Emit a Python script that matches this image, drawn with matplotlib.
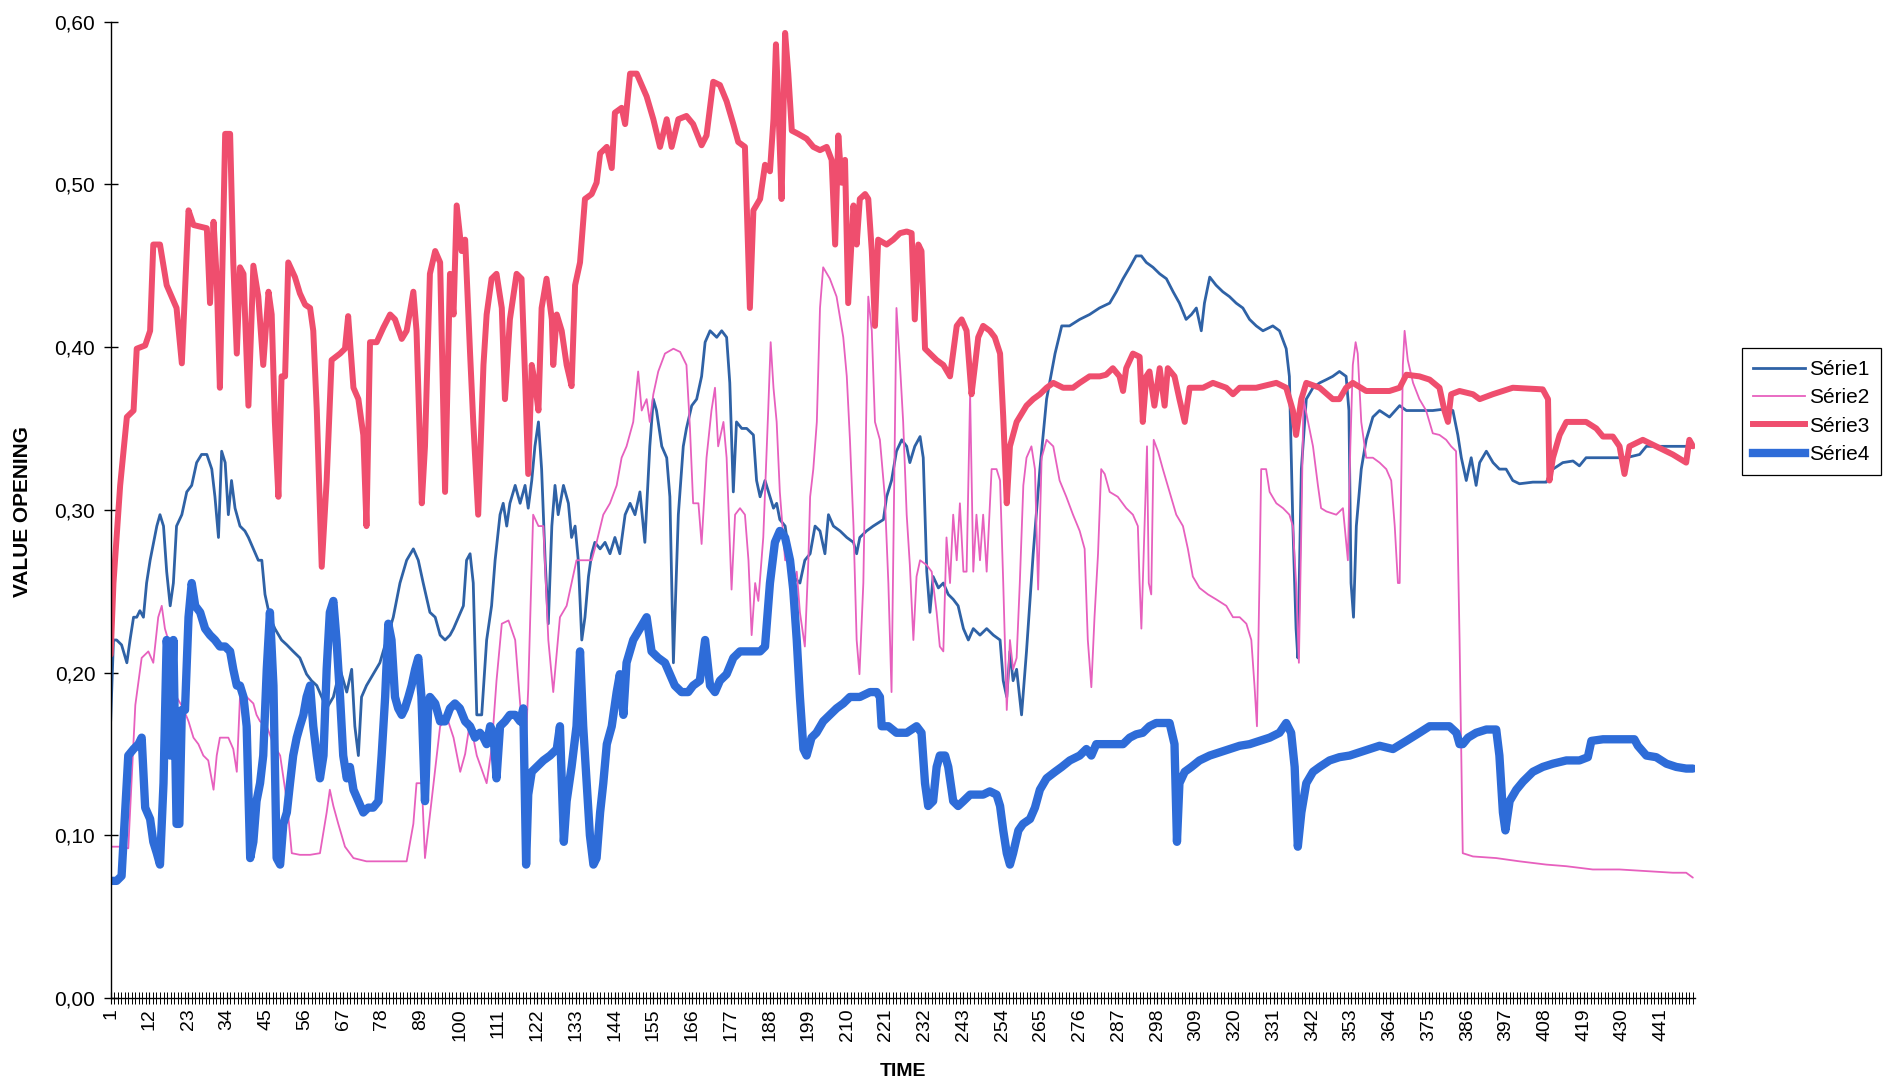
import matplotlib
matplotlib.use("Agg")
import matplotlib.pyplot as plt
from matplotlib.lines import Line2D

plt.rcParams["font.family"] = ["Liberation Sans", "DejaVu Sans"]

# valve opening traces as (time, opening) vertices
serie1 = [
    (1.0, 0.170), (1.8, 0.220), (2.7, 0.220), (4.1, 0.217), (5.6, 0.206), (6.5, 0.220), (7.5, 0.234),
    (8.4, 0.234), (9.3, 0.238), (10.3, 0.234), (11.2, 0.255), (12.2, 0.269), (13.1, 0.279), (14.1, 0.290),
    (15.0, 0.297), (16.0, 0.290), (16.9, 0.262), (17.9, 0.241), (18.8, 0.255), (19.7, 0.290), (21.2, 0.297),
    (22.6, 0.311), (24.0, 0.315), (25.4, 0.329), (26.8, 0.334), (28.3, 0.334), (29.7, 0.325), (30.6, 0.308),
    (31.6, 0.283), (32.5, 0.336), (33.5, 0.329), (34.4, 0.297), (35.3, 0.318), (36.3, 0.301), (37.7, 0.290),
    (39.1, 0.287), (40.1, 0.283), (41.5, 0.276), (42.9, 0.269), (43.9, 0.269), (44.8, 0.248), (46.2, 0.234),
    (47.6, 0.227), (49.5, 0.220), (51.0, 0.217), (52.8, 0.213), (54.7, 0.209), (56.6, 0.199), (58.0, 0.195),
    (59.5, 0.192), (60.9, 0.185), (62.3, 0.178), (64.2, 0.185), (66.1, 0.202), (68.0, 0.188), (69.4, 0.202),
    (70.3, 0.167), (71.3, 0.149), (72.2, 0.185), (73.6, 0.192), (75.5, 0.199), (77.4, 0.206), (79.3, 0.220),
    (81.2, 0.234), (83.1, 0.255), (85.0, 0.269), (86.9, 0.276), (88.3, 0.269), (89.7, 0.255), (91.6, 0.237),
    (93.1, 0.234), (94.5, 0.223), (95.9, 0.220), (97.3, 0.223), (98.3, 0.227), (99.7, 0.234), (101.1, 0.241),
    (102.0, 0.269), (103.0, 0.273), (103.9, 0.255), (104.9, 0.174), (106.3, 0.174), (107.7, 0.220),
    (109.1, 0.241), (110.1, 0.269), (111.5, 0.297), (112.4, 0.304), (113.4, 0.290), (114.3, 0.304),
    (115.8, 0.315), (117.2, 0.304), (118.6, 0.315), (119.5, 0.301), (120.5, 0.318), (121.4, 0.339),
    (122.4, 0.354), (123.3, 0.325), (124.3, 0.269), (125.2, 0.230), (126.2, 0.290), (127.1, 0.315),
    (128.0, 0.297), (129.5, 0.315), (130.9, 0.304), (131.8, 0.283), (132.8, 0.290), (133.7, 0.269),
    (134.7, 0.220), (135.6, 0.234), (136.6, 0.259), (137.5, 0.273), (138.4, 0.280), (139.9, 0.276),
    (141.3, 0.280), (142.7, 0.273), (144.1, 0.283), (145.5, 0.273), (147.0, 0.297), (148.4, 0.304),
    (149.8, 0.297), (151.2, 0.311), (152.6, 0.280), (154.0, 0.339), (155.0, 0.368), (155.9, 0.361),
    (157.4, 0.339), (158.8, 0.332), (159.7, 0.308), (160.7, 0.206), (162.1, 0.297), (163.5, 0.339),
    (164.4, 0.350), (165.9, 0.364), (167.3, 0.368), (168.7, 0.382), (169.7, 0.403), (171.1, 0.410),
    (173.0, 0.406), (174.4, 0.410), (175.8, 0.406), (176.7, 0.378), (177.7, 0.311), (178.6, 0.354),
    (180.1, 0.350), (181.5, 0.350), (183.4, 0.346), (184.3, 0.318), (185.3, 0.308), (186.7, 0.318),
    (188.1, 0.308), (189.1, 0.301), (190.0, 0.304), (190.9, 0.294), (192.4, 0.290), (193.8, 0.269),
    (195.2, 0.258), (196.6, 0.255), (198.0, 0.269), (199.5, 0.273), (200.9, 0.290), (202.3, 0.287),
    (203.7, 0.273), (204.7, 0.297), (206.1, 0.290), (208.0, 0.287), (209.9, 0.283), (211.8, 0.280),
    (212.7, 0.273), (213.6, 0.283), (215.5, 0.287), (217.4, 0.290), (220.3, 0.294), (221.2, 0.308),
    (222.6, 0.318), (224.0, 0.336), (225.5, 0.343), (226.9, 0.339), (227.8, 0.329), (229.2, 0.339),
    (230.7, 0.345), (231.6, 0.332), (232.6, 0.262), (233.5, 0.237), (234.4, 0.259), (235.9, 0.252),
    (237.3, 0.255), (238.7, 0.248), (240.1, 0.245), (241.5, 0.241), (243.0, 0.227), (244.4, 0.220),
    (245.8, 0.227), (247.7, 0.223), (249.6, 0.227), (251.5, 0.223), (253.4, 0.220), (254.3, 0.195),
    (255.3, 0.185), (256.2, 0.213), (257.1, 0.195), (258.1, 0.202), (259.5, 0.174), (260.9, 0.213),
    (262.8, 0.273), (264.7, 0.325), (266.6, 0.368), (269.0, 0.396), (270.9, 0.413), (273.1, 0.413),
    (276.0, 0.417), (278.8, 0.420), (281.6, 0.424), (284.5, 0.427), (286.4, 0.434), (288.3, 0.442),
    (290.2, 0.449), (292.0, 0.456), (293.5, 0.456), (294.9, 0.452), (296.8, 0.449), (298.7, 0.445),
    (300.6, 0.442), (302.5, 0.434), (304.3, 0.427), (306.2, 0.417), (307.7, 0.420), (309.1, 0.424),
    (310.5, 0.410), (311.4, 0.427), (312.9, 0.443), (314.7, 0.438), (316.6, 0.434), (318.5, 0.431),
    (320.4, 0.427), (322.3, 0.424), (324.2, 0.417), (326.1, 0.413), (328.0, 0.410), (330.8, 0.413),
    (332.7, 0.410), (334.6, 0.399), (335.5, 0.382), (336.5, 0.290), (337.4, 0.227), (337.9, 0.209),
    (338.9, 0.325), (340.3, 0.368), (342.2, 0.375), (344.1, 0.378), (346.0, 0.380), (347.8, 0.382),
    (349.7, 0.385), (351.6, 0.382), (352.4, 0.361), (353.0, 0.255), (353.7, 0.234), (354.5, 0.290),
    (355.9, 0.325), (357.3, 0.343), (359.2, 0.357), (361.1, 0.361), (363.9, 0.357), (366.8, 0.364),
    (368.7, 0.361), (372.4, 0.361), (376.2, 0.361), (380.0, 0.362), (381.9, 0.361), (383.3, 0.346),
    (384.3, 0.332), (385.7, 0.318), (387.1, 0.332), (388.5, 0.315), (389.5, 0.329), (391.4, 0.336),
    (393.3, 0.329), (395.1, 0.325), (397.0, 0.325), (398.9, 0.318), (400.8, 0.316), (404.6, 0.317),
    (408.4, 0.317), (410.3, 0.325), (413.1, 0.329), (416.0, 0.330), (417.8, 0.327), (419.7, 0.332),
    (423.5, 0.332), (427.3, 0.332), (431.1, 0.332), (434.9, 0.334), (436.8, 0.339), (440.5, 0.339),
    (444.3, 0.339), (448.1, 0.339), (450.0, 0.341),
]

serie2 = [
    (1.0, 0.093), (3.7, 0.093), (6.0, 0.092), (8.0, 0.180), (9.8, 0.209), (11.7, 0.213), (13.1, 0.206),
    (14.5, 0.234), (15.5, 0.241), (16.4, 0.227), (17.9, 0.216), (19.7, 0.185), (21.6, 0.178), (23.1, 0.170),
    (24.5, 0.160), (25.9, 0.156), (27.3, 0.149), (28.7, 0.146), (30.2, 0.128), (31.1, 0.149), (32.0, 0.160),
    (34.4, 0.160), (35.8, 0.153), (36.8, 0.139), (37.7, 0.185), (39.6, 0.185), (41.5, 0.181), (42.4, 0.174),
    (43.4, 0.170), (45.3, 0.167), (47.2, 0.156), (49.1, 0.149), (51.0, 0.121), (52.4, 0.089), (54.7, 0.088),
    (57.6, 0.088), (60.4, 0.089), (62.3, 0.114), (63.2, 0.128), (64.2, 0.118), (65.6, 0.107), (67.5, 0.093),
    (69.9, 0.086), (73.6, 0.084), (77.4, 0.084), (81.2, 0.084), (85.0, 0.084), (86.9, 0.107), (87.8, 0.132),
    (89.3, 0.132), (90.2, 0.086), (92.0, 0.120), (94.5, 0.167), (96.5, 0.172), (98.3, 0.160), (100.2, 0.139),
    (101.6, 0.150), (103.0, 0.170), (104.9, 0.149), (107.7, 0.132), (109.1, 0.153), (110.5, 0.195),
    (112.0, 0.230), (113.9, 0.232), (115.8, 0.220), (117.2, 0.181), (118.6, 0.146), (119.5, 0.190),
    (120.9, 0.297), (122.4, 0.290), (123.8, 0.290), (125.2, 0.220), (126.6, 0.188), (128.5, 0.234),
    (130.4, 0.241), (131.8, 0.255), (133.2, 0.269), (136.1, 0.269), (137.5, 0.269), (138.9, 0.280),
    (140.8, 0.297), (142.7, 0.304), (144.6, 0.315), (146.0, 0.332), (147.4, 0.339), (149.3, 0.354),
    (150.7, 0.385), (151.7, 0.361), (153.1, 0.368), (154.0, 0.354), (155.0, 0.371), (156.4, 0.385),
    (158.3, 0.396), (160.7, 0.399), (162.6, 0.397), (164.4, 0.389), (165.4, 0.350), (166.3, 0.304),
    (167.8, 0.304), (168.7, 0.279), (170.1, 0.332), (171.5, 0.361), (172.5, 0.375), (173.4, 0.339),
    (174.9, 0.354), (175.8, 0.332), (177.2, 0.251), (178.2, 0.297), (179.6, 0.301), (181.0, 0.297),
    (182.0, 0.269), (182.9, 0.223), (183.9, 0.255), (184.8, 0.244), (186.2, 0.283), (187.6, 0.361),
    (188.3, 0.403), (189.1, 0.375), (190.0, 0.354), (190.9, 0.311), (192.4, 0.269), (193.8, 0.269),
    (194.7, 0.255), (195.7, 0.262), (196.6, 0.237), (198.0, 0.216), (199.0, 0.269), (199.5, 0.308),
    (200.4, 0.325), (201.4, 0.354), (202.3, 0.424), (203.2, 0.449), (205.1, 0.442), (207.0, 0.431),
    (208.9, 0.406), (209.9, 0.382), (210.8, 0.343), (211.8, 0.290), (212.7, 0.220), (213.5, 0.199),
    (214.6, 0.255), (216.0, 0.431), (217.0, 0.410), (217.9, 0.354), (219.3, 0.343), (220.7, 0.308),
    (221.7, 0.255), (222.6, 0.188), (223.6, 0.354), (224.0, 0.424), (225.0, 0.389), (225.9, 0.354),
    (226.9, 0.297), (227.8, 0.266), (228.8, 0.220), (229.7, 0.259), (230.7, 0.269), (232.6, 0.266),
    (234.0, 0.262), (235.4, 0.237), (236.3, 0.216), (237.3, 0.213), (238.2, 0.283), (239.2, 0.255),
    (240.1, 0.297), (241.1, 0.269), (242.0, 0.304), (243.0, 0.262), (243.9, 0.262), (244.9, 0.371),
    (245.8, 0.262), (246.7, 0.297), (247.7, 0.269), (248.6, 0.297), (249.6, 0.262), (251.0, 0.325),
    (252.4, 0.325), (253.4, 0.318), (254.3, 0.255), (255.3, 0.177), (256.2, 0.220), (257.1, 0.202),
    (258.1, 0.209), (259.0, 0.255), (260.0, 0.315), (260.9, 0.332), (262.3, 0.339), (263.3, 0.325),
    (264.2, 0.251), (265.2, 0.332), (266.6, 0.343), (268.5, 0.339), (270.3, 0.318), (272.2, 0.308),
    (274.1, 0.297), (276.0, 0.287), (277.4, 0.276), (278.3, 0.220), (279.3, 0.191), (280.2, 0.234),
    (281.2, 0.273), (282.1, 0.325), (283.1, 0.322), (284.5, 0.311), (286.8, 0.308), (289.2, 0.301),
    (291.1, 0.297), (292.5, 0.290), (293.0, 0.255), (293.5, 0.227), (294.4, 0.290), (295.1, 0.339),
    (295.6, 0.255), (296.3, 0.248), (297.0, 0.343), (298.2, 0.336), (299.6, 0.325), (301.5, 0.311),
    (303.4, 0.297), (305.3, 0.290), (306.7, 0.276), (308.1, 0.259), (310.0, 0.252), (312.4, 0.248),
    (314.7, 0.245), (317.6, 0.241), (319.5, 0.234), (321.4, 0.234), (323.3, 0.230), (324.7, 0.220),
    (325.6, 0.192), (326.3, 0.167), (327.0, 0.255), (327.5, 0.325), (328.9, 0.325), (329.9, 0.311),
    (331.8, 0.304), (333.7, 0.301), (335.5, 0.297), (336.5, 0.290), (337.4, 0.255), (338.2, 0.206),
    (338.9, 0.290), (339.5, 0.368), (340.8, 0.354), (342.2, 0.339), (343.6, 0.315), (344.5, 0.301),
    (346.0, 0.299), (348.8, 0.297), (350.7, 0.301), (352.1, 0.269), (352.8, 0.339), (353.5, 0.389),
    (354.3, 0.403), (354.9, 0.396), (355.9, 0.354), (357.3, 0.332), (359.2, 0.332), (361.1, 0.329),
    (363.0, 0.325), (364.4, 0.318), (365.4, 0.290), (366.3, 0.255), (366.8, 0.255), (367.3, 0.325),
    (367.7, 0.389), (368.2, 0.410), (369.1, 0.392), (370.6, 0.378), (372.4, 0.368), (374.3, 0.361),
    (376.2, 0.347), (378.1, 0.346), (380.0, 0.343), (381.4, 0.339), (382.8, 0.336), (383.8, 0.220),
    (384.7, 0.089), (387.6, 0.087), (394.2, 0.086), (400.8, 0.084), (408.4, 0.082), (414.1, 0.081),
    (421.6, 0.079), (429.2, 0.079), (436.8, 0.078), (444.3, 0.077), (448.1, 0.077), (450.0, 0.074),
]

serie3 = [
    (1.0, 0.211), (1.8, 0.255), (3.7, 0.315), (5.6, 0.357), (7.5, 0.361), (8.4, 0.399), (10.8, 0.401),
    (12.2, 0.410), (13.1, 0.463), (15.0, 0.463), (16.9, 0.438), (18.3, 0.431), (19.7, 0.424), (21.2, 0.390),
    (23.1, 0.484), (24.5, 0.475), (28.3, 0.473), (29.2, 0.427), (30.2, 0.477), (31.1, 0.442), (32.0, 0.375),
    (33.5, 0.531), (34.9, 0.531), (35.8, 0.452), (36.8, 0.396), (37.7, 0.449), (38.7, 0.445), (40.1, 0.364),
    (41.5, 0.450), (42.9, 0.431), (44.3, 0.389), (45.8, 0.434), (46.7, 0.420), (47.6, 0.354), (48.6, 0.308),
    (49.5, 0.382), (50.5, 0.382), (51.4, 0.452), (53.3, 0.443), (54.7, 0.433), (56.2, 0.426), (57.6, 0.424),
    (58.5, 0.410), (59.5, 0.361), (60.9, 0.265), (62.3, 0.318), (63.7, 0.392), (66.1, 0.396), (67.5, 0.399),
    (68.4, 0.419), (69.9, 0.375), (71.3, 0.368), (72.7, 0.346), (73.6, 0.290), (74.6, 0.403), (76.5, 0.403),
    (78.4, 0.412), (80.3, 0.420), (81.7, 0.417), (83.6, 0.405), (85.0, 0.410), (86.9, 0.434), (87.8, 0.410),
    (89.3, 0.304), (90.2, 0.339), (91.6, 0.445), (93.1, 0.459), (94.5, 0.452), (95.9, 0.311), (97.3, 0.445),
    (98.3, 0.420), (99.2, 0.487), (100.6, 0.459), (101.6, 0.466), (103.0, 0.396), (103.9, 0.354),
    (105.3, 0.297), (106.8, 0.389), (107.7, 0.420), (109.1, 0.442), (110.5, 0.445), (112.0, 0.424),
    (112.9, 0.368), (114.3, 0.417), (116.2, 0.445), (117.6, 0.442), (118.6, 0.382), (119.5, 0.322),
    (120.5, 0.389), (121.4, 0.378), (122.4, 0.361), (123.3, 0.424), (124.7, 0.442), (126.2, 0.417),
    (126.6, 0.389), (127.6, 0.420), (129.0, 0.410), (130.4, 0.389), (131.8, 0.376), (132.8, 0.438),
    (134.2, 0.452), (135.6, 0.491), (137.5, 0.494), (138.9, 0.501), (139.9, 0.519), (141.8, 0.523),
    (143.2, 0.510), (144.1, 0.544), (146.0, 0.547), (147.0, 0.537), (148.4, 0.568), (150.3, 0.568),
    (151.7, 0.561), (153.1, 0.554), (155.0, 0.540), (156.9, 0.523), (158.8, 0.540), (160.2, 0.523),
    (162.1, 0.540), (164.4, 0.542), (166.3, 0.537), (168.7, 0.524), (170.1, 0.530), (172.0, 0.563),
    (173.9, 0.561), (175.8, 0.551), (177.7, 0.537), (179.1, 0.526), (181.0, 0.523), (182.4, 0.424),
    (183.4, 0.484), (185.3, 0.491), (186.7, 0.512), (188.1, 0.508), (189.1, 0.540), (189.8, 0.586),
    (190.5, 0.547), (191.4, 0.491), (192.4, 0.593), (193.3, 0.568), (194.3, 0.533), (196.1, 0.531),
    (198.5, 0.528), (200.4, 0.523), (202.3, 0.521), (204.2, 0.523), (205.6, 0.515), (206.6, 0.463),
    (207.5, 0.530), (208.4, 0.501), (209.4, 0.515), (210.3, 0.427), (211.8, 0.487), (212.7, 0.463),
    (213.6, 0.491), (215.1, 0.494), (216.0, 0.491), (217.0, 0.459), (217.9, 0.413), (218.8, 0.466),
    (221.2, 0.463), (223.1, 0.466), (225.0, 0.470), (226.9, 0.471), (228.3, 0.470), (229.2, 0.417),
    (230.2, 0.463), (231.1, 0.459), (232.1, 0.399), (233.5, 0.396), (235.4, 0.392), (237.3, 0.389),
    (239.2, 0.382), (241.1, 0.413), (242.5, 0.417), (243.9, 0.410), (245.3, 0.371), (246.3, 0.389),
    (247.2, 0.406), (248.6, 0.413), (250.5, 0.410), (251.9, 0.406), (253.4, 0.396), (254.3, 0.357),
    (255.3, 0.304), (256.2, 0.339), (258.1, 0.354), (260.9, 0.364), (262.8, 0.368), (264.7, 0.371),
    (266.6, 0.375), (268.5, 0.378), (271.3, 0.375), (274.1, 0.375), (276.0, 0.378), (278.8, 0.382),
    (281.7, 0.382), (283.5, 0.383), (285.4, 0.387), (287.3, 0.382), (288.3, 0.373), (289.2, 0.387),
    (291.1, 0.396), (293.0, 0.394), (293.9, 0.354), (294.9, 0.382), (295.8, 0.385), (297.2, 0.364),
    (298.7, 0.387), (300.1, 0.364), (301.0, 0.387), (302.9, 0.382), (304.3, 0.368), (305.8, 0.354),
    (307.2, 0.375), (311.0, 0.375), (313.8, 0.378), (317.6, 0.375), (319.5, 0.371), (321.4, 0.375),
    (326.1, 0.375), (331.8, 0.378), (334.6, 0.375), (336.5, 0.361), (337.4, 0.346), (338.9, 0.368),
    (340.3, 0.378), (344.1, 0.375), (347.8, 0.368), (349.7, 0.368), (351.6, 0.375), (353.5, 0.378),
    (357.3, 0.373), (363.9, 0.373), (366.8, 0.375), (368.7, 0.383), (372.4, 0.382), (375.3, 0.380),
    (378.1, 0.375), (379.5, 0.361), (380.5, 0.354), (381.4, 0.371), (383.8, 0.373), (387.6, 0.371),
    (389.5, 0.368), (393.2, 0.371), (398.9, 0.375), (407.4, 0.374), (408.9, 0.368), (409.3, 0.318),
    (410.3, 0.332), (412.2, 0.346), (414.1, 0.354), (419.7, 0.354), (422.6, 0.350), (424.5, 0.345),
    (427.3, 0.345), (429.2, 0.339), (430.6, 0.322), (432.0, 0.339), (435.8, 0.343), (440.5, 0.338),
    (444.3, 0.334), (448.1, 0.329), (449.0, 0.343), (450.0, 0.339),
]

serie4 = [
    (1.0, 0.072), (2.7, 0.072), (4.1, 0.075), (5.1, 0.114), (6.0, 0.149), (7.5, 0.153), (8.9, 0.156),
    (9.8, 0.160), (10.8, 0.117), (12.2, 0.110), (13.1, 0.096), (14.1, 0.089), (15.0, 0.082), (16.0, 0.132),
    (16.9, 0.220), (17.4, 0.209), (17.9, 0.149), (18.8, 0.220), (19.7, 0.107), (20.5, 0.107), (21.2, 0.177),
    (22.1, 0.177), (23.1, 0.234), (24.0, 0.255), (25.0, 0.241), (26.4, 0.237), (27.8, 0.227), (29.2, 0.223),
    (30.6, 0.220), (32.0, 0.216), (33.5, 0.216), (34.9, 0.213), (35.8, 0.202), (36.8, 0.192), (37.7, 0.192),
    (38.7, 0.185), (39.6, 0.167), (40.6, 0.086), (41.5, 0.096), (42.4, 0.121), (43.4, 0.132), (44.3, 0.149),
    (45.3, 0.202), (46.2, 0.237), (47.2, 0.192), (48.1, 0.086), (49.1, 0.082), (50.0, 0.107), (51.0, 0.114),
    (51.9, 0.132), (52.8, 0.149), (53.8, 0.160), (54.7, 0.167), (55.7, 0.174), (56.6, 0.185), (57.6, 0.192),
    (58.5, 0.167), (59.5, 0.149), (60.4, 0.135), (61.4, 0.149), (62.3, 0.202), (63.2, 0.237), (64.2, 0.244),
    (65.1, 0.220), (66.1, 0.185), (67.0, 0.149), (68.0, 0.135), (68.9, 0.142), (69.9, 0.128), (71.3, 0.121),
    (72.7, 0.114), (74.1, 0.117), (75.5, 0.117), (77.0, 0.121), (77.9, 0.149), (78.9, 0.185), (79.8, 0.230),
    (80.7, 0.220), (81.7, 0.185), (82.6, 0.178), (83.6, 0.174), (84.5, 0.178), (85.5, 0.185), (86.4, 0.192),
    (87.4, 0.202), (88.3, 0.209), (89.2, 0.185), (90.2, 0.121), (91.1, 0.178), (91.6, 0.185), (93.1, 0.181),
    (94.5, 0.170), (95.9, 0.170), (97.3, 0.178), (98.7, 0.181), (100.1, 0.178), (101.6, 0.170),
    (103.0, 0.167), (104.4, 0.160), (105.8, 0.163), (106.8, 0.160), (107.7, 0.156), (108.7, 0.167),
    (109.6, 0.163), (110.5, 0.135), (111.5, 0.167), (112.9, 0.170), (114.3, 0.174), (115.8, 0.174),
    (117.2, 0.170), (118.1, 0.178), (118.9, 0.082), (119.5, 0.125), (120.5, 0.139), (121.9, 0.142),
    (123.8, 0.146), (125.7, 0.149), (127.6, 0.153), (128.5, 0.167), (129.6, 0.096), (130.4, 0.121),
    (131.8, 0.142), (133.2, 0.167), (134.2, 0.213), (135.1, 0.167), (136.1, 0.132), (137.0, 0.100),
    (138.0, 0.082), (138.9, 0.086), (139.9, 0.114), (140.8, 0.132), (141.8, 0.156), (143.2, 0.167),
    (144.6, 0.188), (145.5, 0.199), (146.5, 0.174), (147.4, 0.206), (149.3, 0.220), (151.2, 0.227),
    (153.1, 0.234), (154.5, 0.213), (156.4, 0.209), (158.3, 0.206), (159.7, 0.199), (161.1, 0.192),
    (163.0, 0.188), (164.9, 0.188), (166.3, 0.192), (168.2, 0.195), (169.7, 0.220), (171.1, 0.192),
    (172.5, 0.188), (173.9, 0.195), (175.8, 0.199), (177.7, 0.209), (179.6, 0.213), (181.5, 0.213),
    (183.4, 0.213), (185.3, 0.213), (186.7, 0.216), (188.1, 0.255), (189.5, 0.280), (190.9, 0.287),
    (192.4, 0.283), (193.8, 0.269), (194.7, 0.251), (195.7, 0.220), (196.6, 0.185), (197.6, 0.153),
    (198.5, 0.149), (199.9, 0.160), (201.3, 0.163), (203.2, 0.170), (205.1, 0.174), (207.0, 0.178),
    (208.9, 0.181), (210.8, 0.185), (213.6, 0.185), (216.5, 0.188), (218.4, 0.188), (219.3, 0.185),
    (219.8, 0.167), (221.7, 0.167), (224.0, 0.163), (226.9, 0.163), (229.7, 0.167), (231.1, 0.163),
    (232.1, 0.132), (233.0, 0.118), (234.4, 0.121), (235.4, 0.142), (236.3, 0.149), (237.8, 0.149),
    (238.7, 0.142), (240.1, 0.121), (241.5, 0.118), (243.0, 0.121), (244.9, 0.125), (246.7, 0.125),
    (248.6, 0.125), (250.5, 0.127), (252.4, 0.125), (253.4, 0.118), (254.3, 0.103), (255.3, 0.089),
    (256.2, 0.082), (257.1, 0.089), (258.6, 0.103), (259.9, 0.107), (261.9, 0.110), (263.3, 0.117),
    (264.7, 0.128), (266.6, 0.135), (269.0, 0.139), (270.9, 0.142), (273.2, 0.146), (276.0, 0.149),
    (277.9, 0.153), (279.3, 0.149), (280.7, 0.156), (282.6, 0.156), (284.5, 0.156), (286.4, 0.156),
    (288.3, 0.156), (290.2, 0.160), (292.0, 0.162), (293.9, 0.163), (295.8, 0.167), (297.7, 0.169),
    (299.6, 0.169), (301.5, 0.169), (302.9, 0.156), (303.6, 0.096), (304.3, 0.132), (305.8, 0.139),
    (307.7, 0.142), (310.0, 0.146), (312.9, 0.149), (315.7, 0.151), (318.5, 0.153), (321.4, 0.155),
    (324.2, 0.156), (327.0, 0.158), (329.9, 0.160), (332.7, 0.163), (334.6, 0.169), (336.0, 0.163),
    (337.0, 0.142), (337.9, 0.093), (338.9, 0.114), (340.3, 0.132), (342.2, 0.139), (344.1, 0.142),
    (346.9, 0.146), (349.7, 0.148), (352.6, 0.149), (355.4, 0.151), (358.1, 0.153), (361.1, 0.155),
    (364.9, 0.153), (368.7, 0.158), (372.4, 0.163), (375.3, 0.167), (378.1, 0.167), (380.9, 0.167),
    (382.9, 0.163), (383.8, 0.156), (384.7, 0.156), (386.2, 0.160), (388.5, 0.163), (391.4, 0.165),
    (394.2, 0.165), (395.1, 0.149), (396.1, 0.114), (396.8, 0.103), (398.0, 0.121), (399.9, 0.128),
    (401.8, 0.133), (404.6, 0.139), (407.4, 0.142), (410.3, 0.144), (414.1, 0.146), (417.8, 0.146),
    (420.2, 0.148), (421.2, 0.158), (424.5, 0.159), (429.2, 0.159), (433.4, 0.159), (434.4, 0.155),
    (436.8, 0.149), (439.6, 0.148), (442.5, 0.144), (445.3, 0.142), (448.1, 0.141), (450.0, 0.141),
]

series_names = ["Série1", "Série2", "Série3", "Série4"]
time_ticks = [1, 12, 23, 34, 45, 56, 67, 78, 89, 100, 111, 122, 133, 144, 155, 166, 177, 188, 199, 210,
              221, 232, 243, 254, 265, 276, 287, 298, 309, 320, 331, 342, 353, 364, 375, 386, 397, 408,
              419, 430, 441]
n_points = 450
y_ticks = [0.0, 0.1, 0.2, 0.3, 0.4, 0.5, 0.6]
y_tick_labels = ["0,00", "0,10", "0,20", "0,30", "0,40", "0,50", "0,60"]

colors = ["#2F62A6", "#E760BE", "#EF4E6E", "#2E6CD8"]
widths = [2.0, 1.3, 4.3, 6.0]

fig = plt.figure(figsize=(18.85, 10.84), dpi=100)
ax = fig.add_axes([0.0587, 0.0793, 0.8403, 0.9008])

for pts, name, c, lw in zip([serie1, serie2, serie3, serie4], series_names, colors, widths):
    t, v = zip(*pts)
    ax.plot(t, v, color=c, lw=lw, label=name, solid_joinstyle="round", solid_capstyle="round")

ax.set_xlim(1, n_points + 0.5)
ax.set_ylim(0, 0.6)
ax.set_yticks(y_ticks)
ax.set_yticklabels(y_tick_labels, fontsize=15)
ax.set_xticks(time_ticks)
ax.set_xticklabels([str(x) for x in time_ticks], rotation=90, fontsize=14)
ax.set_xticks(range(1, n_points + 1), minor=True)

for side in ["top", "right"]:
    ax.spines[side].set_visible(False)
for side in ["left", "bottom"]:
    ax.spines[side].set_linewidth(1.0)

ax.tick_params(axis="y", direction="inout", length=10, width=1, pad=6)
ax.tick_params(axis="x", which="major", direction="inout", length=9, width=0.8, pad=3)
ax.tick_params(axis="x", which="minor", direction="inout", length=9, width=0.7)

fig.text(903 / 1885, 1 - 1071 / 1084, "TIME", ha="center", va="center", fontsize=14, fontweight="bold")
fig.text(22 / 1885, 1 - 512 / 1084, "VALUE OPENING", ha="center", va="center", rotation=90,
         fontsize=15, fontweight="bold")

handles = [Line2D([], [], color=c, lw=lw) for c, lw in zip(colors, widths)]
leg = fig.legend(handles, series_names, loc="center left", bbox_to_anchor=(0.9185, 0.620),
                 fontsize=15, frameon=True, fancybox=False, edgecolor="black", framealpha=1,
                 handlelength=2.5, handletextpad=0.2, labelspacing=0.45, borderpad=0.55)
leg.get_frame().set_linewidth(0.9)

fig.savefig("out.png", dpi=100)
